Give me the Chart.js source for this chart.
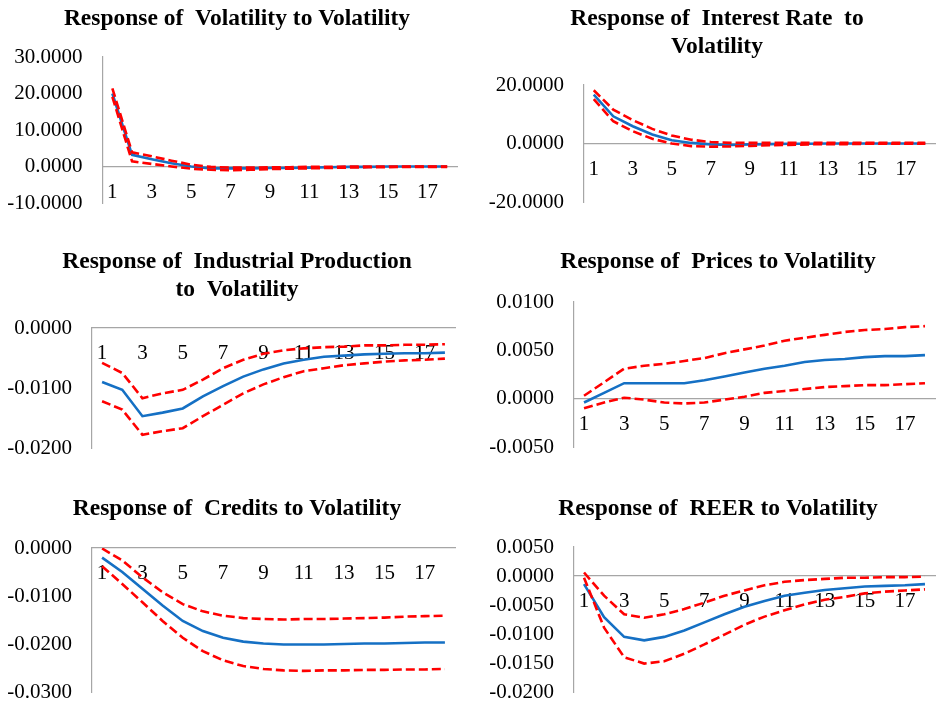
<!DOCTYPE html>
<html><head><meta charset="utf-8">
<script src="https://cdn.jsdelivr.net/npm/chart.js@4"></script>
<style>
html,body{margin:0;padding:0;background:#fff;overflow:hidden;}
#wrap{position:relative;width:936px;height:707px;overflow:hidden;background:#fff;}
canvas{position:absolute;}
</style></head><body><div id="wrap"></div>
<script>
// ---------- data ----------
const periods = ['1','2','3','4','5','6','7','8','9','10','11','12','13','14','15','16','17','18'];

const volTitle = ['Response of  Volatility to Volatility'];
const volTicks = [-10, 0, 10, 20, 30];
const volResp  = [20.0, 3.2, 2.0, 0.9, 0.0, -0.5, -0.5, -0.5, -0.4, -0.4, -0.3, -0.2, -0.1, -0.1, 0.0, 0.0, 0.0, 0.0];
const volUpper = [21.4, 3.9, 2.8, 1.6, 0.5, -0.1, -0.3, -0.3, -0.2, -0.2, -0.1, -0.1, 0.0, 0.0, 0.0, 0.0, 0.0, 0.0];
const volLower = [19.1, 1.4, 0.7, 0.0, -0.6, -0.9, -1.0, -0.9, -0.7, -0.6, -0.5, -0.4, -0.3, -0.2, -0.2, -0.1, -0.1, -0.1];

const irTitle = ['Response of  Interest Rate  to', 'Volatility'];
const irTicks = [-20, 0, 20];
const irResp  = [16.7, 9.3, 5.9, 3.1, 1.1, 0.2, -0.3, -0.5, -0.3, -0.2, -0.1, -0.1, 0.0, 0.0, 0.0, 0.0, 0.0, 0.0];
const irUpper = [18.2, 11.6, 8.0, 5.0, 2.7, 1.3, 0.5, 0.2, 0.2, 0.2, 0.2, 0.2, 0.2, 0.2, 0.2, 0.2, 0.2, 0.2];
const irLower = [15.2, 7.6, 4.2, 1.6, 0.0, -0.9, -1.1, -1.0, -0.8, -0.6, -0.5, -0.3, -0.2, -0.2, -0.1, -0.1, -0.1, -0.1];

const ipTitle = ['Response of  Industrial Production', 'to  Volatility'];
const ipTicks = [-0.02, -0.01, 0];
const ipResp  = [-0.0090, -0.0103, -0.0147, -0.0141, -0.0134, -0.0114, -0.0097, -0.0081, -0.0069, -0.0059, -0.0053, -0.0048, -0.0046, -0.0044, -0.0043, -0.0042, -0.0042, -0.0041];
const ipUpper = [-0.0058, -0.0075, -0.0117, -0.0109, -0.0103, -0.0086, -0.0067, -0.0053, -0.0043, -0.0037, -0.0034, -0.0032, -0.0031, -0.0029, -0.0029, -0.0028, -0.0028, -0.0027];
const ipLower = [-0.0122, -0.0136, -0.0178, -0.0172, -0.0167, -0.0147, -0.0128, -0.0109, -0.0094, -0.0082, -0.0072, -0.0067, -0.0062, -0.0059, -0.0056, -0.0054, -0.0053, -0.0051];

const prTitle = ['Response of  Prices to Volatility'];
const prTicks = [-0.005, 0, 0.005, 0.01];
const prResp  = [-0.0004, 0.0006, 0.0016, 0.0016, 0.0016, 0.0016, 0.0019, 0.0023, 0.0027, 0.0031, 0.0034, 0.0038, 0.0040, 0.0041, 0.0043, 0.0044, 0.0044, 0.0045];
const prUpper = [0.0003, 0.0017, 0.0031, 0.0034, 0.0036, 0.0039, 0.0042, 0.0047, 0.0051, 0.0055, 0.0060, 0.0063, 0.0066, 0.0069, 0.0071, 0.0072, 0.0074, 0.0075];
const prLower = [-0.0010, -0.0004, 0.0001, -0.0001, -0.0004, -0.0005, -0.0004, -0.0001, 0.0002, 0.0006, 0.0008, 0.0010, 0.0012, 0.0013, 0.0014, 0.0014, 0.0015, 0.0016];

const crTitle = ['Response of  Credits to Volatility'];
const crTicks = [-0.03, -0.02, -0.01, 0];
const crResp  = [-0.0020, -0.0050, -0.0085, -0.0120, -0.0152, -0.0173, -0.0187, -0.0195, -0.0199, -0.0201, -0.0201, -0.0201, -0.0200, -0.0199, -0.0199, -0.0198, -0.0197, -0.0197];
const crUpper = [-0.0001, -0.0026, -0.0061, -0.0092, -0.0117, -0.0132, -0.0141, -0.0146, -0.0148, -0.0149, -0.0148, -0.0148, -0.0147, -0.0146, -0.0145, -0.0143, -0.0142, -0.0141];
const crLower = [-0.0038, -0.0075, -0.0113, -0.0152, -0.0187, -0.0215, -0.0234, -0.0246, -0.0252, -0.0255, -0.0256, -0.0255, -0.0255, -0.0254, -0.0254, -0.0253, -0.0253, -0.0252];

const reTitle = ['Response of  REER to Volatility'];
const reTicks = [-0.02, -0.015, -0.01, -0.005, 0, 0.005];
const reResp  = [-0.0014, -0.0071, -0.0105, -0.0111, -0.0105, -0.0094, -0.0080, -0.0066, -0.0053, -0.0043, -0.0034, -0.0029, -0.0024, -0.0021, -0.0018, -0.0017, -0.0016, -0.0014];
const reUpper = [0.0006, -0.0034, -0.0066, -0.0072, -0.0066, -0.0057, -0.0046, -0.0034, -0.0025, -0.0016, -0.0010, -0.0007, -0.0005, -0.0003, -0.0003, -0.0002, -0.0002, -0.0001];
const reLower = [-0.0003, -0.0089, -0.0140, -0.0151, -0.0147, -0.0134, -0.0118, -0.0101, -0.0084, -0.0070, -0.0059, -0.0049, -0.0041, -0.0036, -0.0030, -0.0027, -0.0025, -0.0023];

// ---------- layout / style ----------
const FONT = "'Liberation Serif','Times New Roman',Times,serif";
const BLUE = '#1570C4';
const RED = '#FF0000';
const AXIS = '#A6A6A6';

const panels = [
  {title: volTitle, ticks: volTicks, resp: volResp, up: volUpper, low: volLower, cx: 0,   cy: 5,   w: 474, h: 238, yw: 102.5, rw: 17, tb: 24},
  {title: irTitle,  ticks: irTicks,  resp: irResp,  up: irUpper,  low: irLower,  cx: 466, cy: 5,   w: 502, h: 237, yw: 118,   rw: 33, tb: 24},
  {title: ipTitle,  ticks: ipTicks,  resp: ipResp,  up: ipUpper,  low: ipLower,  cx: 0,   cy: 248, w: 474, h: 240, yw: 92,    rw: 19, tb: 24},
  {title: prTitle,  ticks: prTicks,  resp: prResp,  up: prUpper,  low: prLower,  cx: 466, cy: 248, w: 504, h: 239, yw: 108,   rw: 35, tb: 26},
  {title: crTitle,  ticks: crTicks,  resp: crResp,  up: crUpper,  low: crLower,  cx: 0,   cy: 495, w: 474, h: 237, yw: 92,    rw: 19, tb: 25},
  {title: reTitle,  ticks: reTicks,  resp: reResp,  up: reUpper,  low: reLower,  cx: 466, cy: 495, w: 504, h: 237, yw: 108,   rw: 35, tb: 24}
];

function fmt(v){ if (Math.abs(v) < 1e-12) v = 0; return v.toFixed(4); }

const wrap = document.getElementById('wrap');
panels.forEach(p => {
  const c = document.createElement('canvas');
  c.width = p.w; c.height = p.h;
  c.style.left = p.cx + 'px'; c.style.top = p.cy + 'px';
  c.style.width = p.w + 'px'; c.style.height = p.h + 'px';
  wrap.appendChild(c);
  const dash = {borderColor: RED, borderWidth: 2.6, borderDash: [9, 4], pointRadius: 0, tension: 0, fill: false};
  new Chart(c, {
    type: 'line',
    data: {
      labels: periods,
      datasets: [
        Object.assign({label: 'Upper', data: p.up}, dash),
        Object.assign({label: 'Lower', data: p.low}, dash),
        {label: 'Response', data: p.resp, borderColor: BLUE, borderWidth: 2.6, pointRadius: 0, tension: 0, fill: false}
      ]
    },
    options: {
      responsive: false, animation: false, devicePixelRatio: 1,
      layout: {padding: {left: 0, right: 0, top: 0, bottom: 40}},
      plugins: {
        legend: {display: false},
        tooltip: {enabled: false},
        title: {display: true, text: p.title, color: '#000',
          font: {family: FONT, size: 23.5, weight: 'bold', lineHeight: '28px'},
          padding: {top: 0, bottom: p.tb}}
      },
      scales: {
        x: {
          type: 'category', offset: true, position: {y: 0},
          grid: {display: false, drawTicks: false},
          border: {display: true, color: AXIS, width: 1.2},
          ticks: {autoSkip: false, maxRotation: 0, minRotation: 0, padding: 13, color: '#000',
            font: {family: FONT, size: 21},
            callback: (v, i) => (i % 2 === 0 ? periods[i] : '')},
          afterFit: s => { s.height = 0; }
        },
        y: {
          position: 'left',
          min: p.ticks[0], max: p.ticks[p.ticks.length - 1],
          grid: {display: false, drawTicks: false},
          border: {display: true, color: AXIS, width: 1.2},
          ticks: {padding: 20, color: '#000', font: {family: FONT, size: 21}, callback: v => fmt(v)},
          afterBuildTicks: s => { s.ticks = p.ticks.map(v => ({value: v})); },
          afterFit: s => { s.width = p.yw; }
        },
        spacer: {
          type: 'linear', position: 'right', display: true,
          grid: {display: false, drawTicks: false},
          border: {display: false},
          ticks: {display: false},
          afterFit: s => { s.width = p.rw; }
        }
      }
    }
  });
});
</script></body></html>
